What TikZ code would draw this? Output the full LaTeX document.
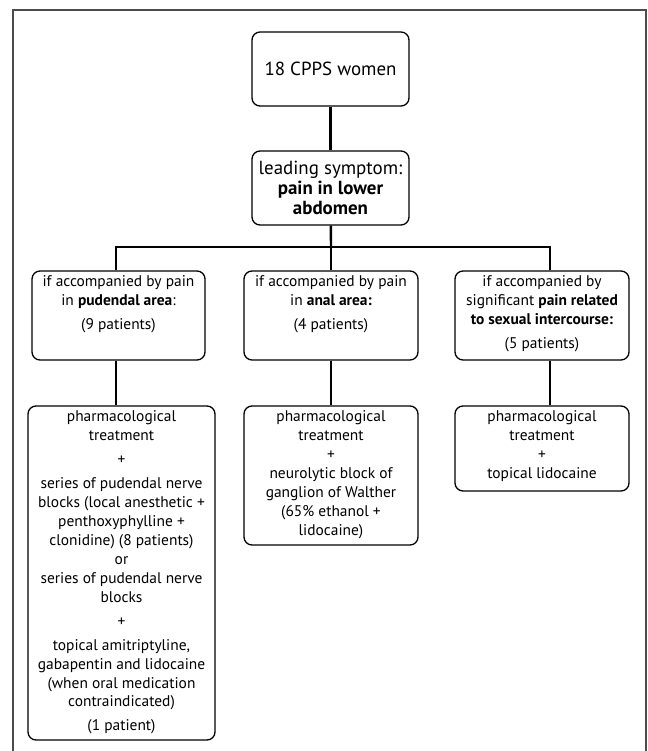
\documentclass[tikz,border=0pt]{standalone}
\usepackage{fontspec}
\setmainfont{PT Sans}

% text block at the top of a fixed size box
\newcommand{\boxlines}[3]{\parbox[c][#2][t]{#1}{\centering\vspace*{5bp}#3}}

\begin{document}
\begin{tikzpicture}[x=1bp,y=-1bp]

    \tikzset{boxstyle/.style={draw,rounded corners=8bp,line width=1.3bp,align=center,inner sep=0pt}}
    \tikzset{smalltext/.style={font=\fontsize{15.5}{19}\selectfont}}
    \useasboundingbox (0,0) rectangle (648,751);
    \draw[line width=1.2bp,black!70] (13,751) -- (13,10) -- (646,10) -- (646,751);

    \node[boxstyle,minimum width=157bp,minimum height=74bp,font=\fontsize{19}{22}\selectfont] (women) at (330.5,69) {18 CPPS women};
    \node[boxstyle,minimum width=157bp,minimum height=74bp,font=\fontsize{19}{20.5}\selectfont] (lead) at (330.5,188) {leading symptom:\\\textbf{pain in lower}\\\textbf{abdomen}};

    \node[boxstyle,smalltext] (pud) at (118.5,315.5) {\boxlines{173bp}{89bp}{if accompanied by pain\\in \textbf{pudendal area}:\\[5bp](9 patients)}};
    \node[boxstyle,smalltext] (anal) at (331,315.5) {\boxlines{174bp}{89bp}{if accompanied by pain\\in \textbf{anal area:}\\[5bp](4 patients)}};
    \node[boxstyle,smalltext] (sex) at (542,315.5) {\boxlines{174bp}{89bp}{if accompanied by\\significant \textbf{pain related}\\\textbf{to sexual intercourse:}\\[5bp](5 patients)}};

    \node[boxstyle,smalltext] (treatpud) at (121.5,573) {\boxlines{187bp}{334bp}{pharmacological\\treatment\\[5bp]+\\[5bp]series of pudendal nerve\\blocks (local anesthetic +\\penthoxyphylline +\\clonidine) (8 patients)\\or\\series of pudendal nerve\\blocks\\[5bp]+\\[5bp]topical amitriptyline,\\gabapentin and lidocaine\\(when oral medication\\contraindicated)\\[5bp](1 patient)}};
    \node[boxstyle,smalltext] (treatanal) at (331,475.5) {\boxlines{174bp}{139bp}{pharmacological\\treatment\\+\\neurolytic block of\\ganglion of Walther\\(65\% ethanol +\\lidocaine)}};
    \node[boxstyle,smalltext] (treatsex) at (542,448.5) {\boxlines{174bp}{85bp}{pharmacological\\treatment\\+\\topical lidocaine}};

    \coordinate (split) at (331,247);
    \coordinate (ja) at (116,247);
    \coordinate (jc) at (550,247);

    \begin{scope}[every path/.style={line width=2.4bp}]
        \draw (women) -- (lead);
        \draw (lead) -- (split);
        \draw (ja |- pud.north) -- (ja) -- (jc) -- (jc |- sex.north);
        \draw (split) -- (anal);
        \draw (ja |- pud.south) -- (ja |- treatpud.north);
        \draw (anal) -- (treatanal);
        \draw (jc |- sex.south) -- (jc |- treatsex.north);
    \end{scope}
\end{tikzpicture}
\end{document}
